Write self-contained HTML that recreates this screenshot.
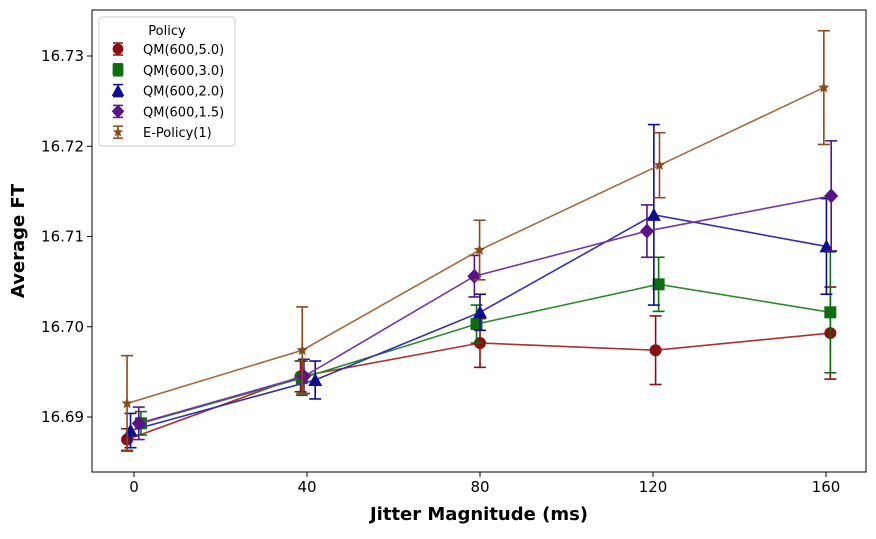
<!DOCTYPE html>
<html><head><meta charset="utf-8"><style>
body{margin:0;background:#fff;font-family:"Liberation Sans","DejaVu Sans",sans-serif}
svg text{font-family:"DejaVu Sans","Liberation Sans",sans-serif}
</style></head><body>
<svg id="chart" width="876" height="534" xmlns="http://www.w3.org/2000/svg"></svg>
<script>
const xTicks=[0,40,80,120,160];
const yTicks=[16.69,16.70,16.71,16.72,16.73];
const seriesNames=["QM(600,5.0)","QM(600,3.0)","QM(600,2.0)","QM(600,1.5)","E-Policy(1)"];
const xs5=[-1.6,38.5,80,120.6,161];
const ys5=[16.6875,16.6945,16.6982,16.6974,16.6993];
const es5=[0.0012,0.0017,0.0027,0.0038,0.0051];
const xs3=[1.6,38.8,79.2,121.3,161];
const ys3=[16.6893,16.6943,16.7003,16.7047,16.7016];
const es3=[0.0013,0.0019,0.0021,0.0030,0.0067];
const xs2=[-0.8,41.9,80,120.2,160.1];
const ys2=[16.6885,16.6941,16.7016,16.7124,16.7089];
const es2=[0.0019,0.0021,0.0020,0.0100,0.0053];
const xs15=[1.1,39.3,78.7,118.6,161.2];
const ys15=[16.6893,16.6945,16.7056,16.7106,16.7145];
const es15=[0.0018,0.0019,0.0023,0.0029,0.0061];
const xsE=[-1.6,38.9,79.9,121.5,159.5];
const ysE=[16.6915,16.6974,16.7085,16.7179,16.7265];
const esE=[0.0053,0.0048,0.0033,0.0036,0.0063];

const svg=document.getElementById('chart');const NS="http://www.w3.org/2000/svg";
const L=92,R=866,T=10,B=472;
const X=v=>134+v*4.325;
const Y=v=>417-(v-16.69)*9025;
function el(t,a,p){const e=document.createElementNS(NS,t);for(const k in a)e.setAttribute(k,a[k]);(p||svg).appendChild(e);return e;}
const ax=el('g',{});


xTicks.forEach(t=>{el('line',{x1:X(t),x2:X(t),y1:B,y2:B+5,stroke:'#000'},ax);
 const tx=el('text',{x:X(t),y:B+20,'text-anchor':'middle','font-size':15},ax);tx.textContent=t;
 });
yTicks.forEach(t=>{el('line',{x1:L-5,x2:L,y1:Y(t),y2:Y(t),stroke:'#000'},ax);
 const tx=el('text',{x:L-8,y:Y(t)+5,'text-anchor':'end','font-size':15},ax);tx.textContent=t.toFixed(2);
 });
const xt=el('text',{x:479,y:520,'text-anchor':'middle','font-size':18,'font-weight':'bold'});xt.textContent="Jitter Magnitude (ms)";

const yt=el('text',{x:24,y:241,'text-anchor':'middle','font-size':18,'font-weight':'bold',transform:'rotate(-90 24 241)'});yt.textContent="Average FT";


const series=[[xs5,ys5,es5,'#8b1010','#a83232','circle'],[xs3,ys3,es3,'#0e6e0e','#2e8a2e','square'],[xs2,ys2,es2,'#0d0d8f','#3030a8','tri'],[xs15,ys15,es15,'#5a118a','#7434a8','diamond'],[xsE,ysE,esE,'#8b4a1a','#a86a3c','star']];
function marker(g,type,cx,cy,c,s){
 if(type==='circle')return el('circle',{cx,cy,r:6*s,fill:c},g);
 if(type==='square')return el('rect',{x:cx-6*s,y:cy-6*s,width:12*s,height:12*s,fill:c},g);
 if(type==='tri')return el('polygon',{points:`${cx},${cy-7*s} ${cx-7*s},${cy+6*s} ${cx+7*s},${cy+6*s}`,fill:c},g);
 if(type==='diamond')return el('polygon',{points:`${cx},${cy-7.5*s} ${cx+7*s},${cy} ${cx},${cy+7.5*s} ${cx-7*s},${cy}`,fill:c},g);
 let p=[];for(let i=0;i<10;i++){const r=i%2?2.6*s:6*s,a=-Math.PI/2+i*Math.PI/5;p.push((cx+r*Math.cos(a))+','+(cy+r*Math.sin(a)));}
 return el('polygon',{points:p.join(' '),fill:c},g);
}
series.forEach((s,si)=>{
 const [xs,ys,es,mc,lc,type]=s;const g=el('g',{});
 
 
 el('polyline',{points:xs.map((x,i)=>X(x)+','+Y(ys[i])).join(' '),fill:'none',stroke:lc,'stroke-width':1.6},g);
 xs.forEach((x,i)=>{const cx=X(x),t=Y(ys[i]+es[i]),b=Y(ys[i]-es[i]);
  el('line',{x1:cx,x2:cx,y1:t,y2:b,stroke:mc,'stroke-width':1.6},g);
  el('line',{x1:cx-6,x2:cx+6,y1:t,y2:t,stroke:mc,'stroke-width':1.6},g);
  el('line',{x1:cx-6,x2:cx+6,y1:b,y2:b,stroke:mc,'stroke-width':1.6},g);
  const m=marker(g,type,cx,Y(ys[i]),mc,1);
  });
});
el('rect',{x:L,y:T,width:R-L,height:B-T,fill:'none',stroke:'#000','stroke-width':1});
const lg=el('g',{});

el('rect',{x:99,y:17,width:136,height:129,rx:3,fill:'#fff',stroke:'#ccc'},lg);
const lt=el('text',{x:167,y:35,'text-anchor':'middle','font-size':13},lg);lt.textContent="Policy";
series.forEach((s,i)=>{const y=49+i*20.8;const g=el('g',{},lg);
 
 el('line',{x1:118,x2:118,y1:y-6,y2:y+6,stroke:s[3],'stroke-width':1.5},g);
 el('line',{x1:113,x2:123,y1:y-6,y2:y-6,stroke:s[3],'stroke-width':1.5},g);
 el('line',{x1:113,x2:123,y1:y+6,y2:y+6,stroke:s[3],'stroke-width':1.5},g);
 marker(g,s[5],118,y,s[3],0.9);
 const t=el('text',{x:143,y:y+5,'font-size':13},g);t.textContent=seriesNames[i];});
</script>
</body></html>
